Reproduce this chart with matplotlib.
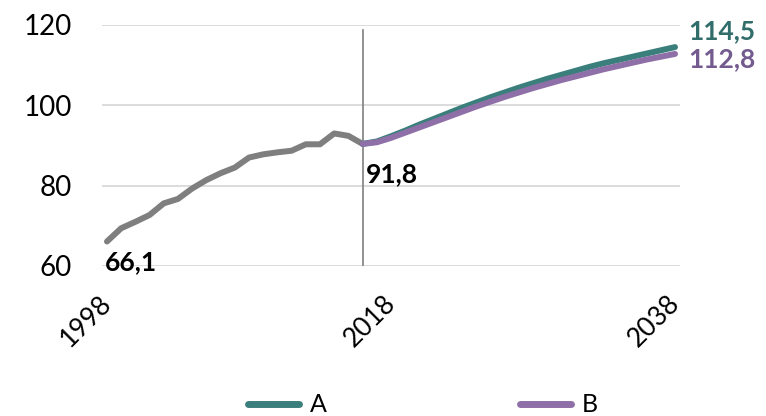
import matplotlib
matplotlib.use("Agg")
import matplotlib.pyplot as plt
from matplotlib.transforms import ScaledTranslation

plt.rcParams['font.family'] = ['Lato', 'DejaVu Sans']

hist_years = list(range(1998, 2017))
hist_vals = [66.1, 69.4, 71.0, 72.7, 75.6, 76.7, 79.3, 81.4, 83.1, 84.5,
             87.0, 87.8, 88.3, 88.7, 90.3, 90.3, 93.0, 92.4, 90.4]

proj_years = list(range(2016, 2039))
proj_a = [90.4, 91.0, 92.3, 93.7, 95.2, 96.6, 98.0, 99.4, 100.7, 102.0, 103.2,
          104.4, 105.5, 106.6, 107.6, 108.6, 109.6, 110.5, 111.3, 112.1, 112.9,
          113.7, 114.5]
proj_b = [90.4, 90.8, 91.9, 93.2, 94.5, 95.8, 97.1, 98.4, 99.7, 100.9, 102.1,
          103.2, 104.3, 105.3, 106.3, 107.2, 108.1, 109.0, 109.8, 110.6, 111.4,
          112.1, 112.8]

series_names = ['A', 'B']
x_ticks = [1998, 2018, 2038]
y_ticks = [60, 80, 100, 120]
label_start = "66,1"
label_mid = "91,8"
label_a = "114,5"
label_b = "112,8"

GRAY = '#7f7f7f'
TEAL = '#3b7f7c'
PURPLE = '#8e6fa7'
TEAL_TXT = '#316d6a'
PURPLE_TXT = '#735a8f'

fig = plt.figure(figsize=(7.66, 4.16), dpi=100)
ax = fig.add_axes([102/766, 1-266/416, (680-102)/766, (266-25)/416])

ax.set_xlim(1997.65, 2038.35)
ax.set_ylim(60, 120)
for s in ax.spines.values():
    s.set_visible(False)
ax.set_yticks(y_ticks)
ax.yaxis.grid(True, color='#d9d9d9', lw=1.3)
ax.set_axisbelow(True)
ax.tick_params(axis='y', length=0, pad=21.5, labelsize=20)
ax.set_xticks(x_ticks)
ax.set_xticklabels([str(t) for t in x_ticks], rotation=45, ha='right',
                   va='top', rotation_mode='anchor')
ax.tick_params(axis='x', length=0, pad=18, labelsize=19)
offset = ScaledTranslation(-8/100, 0, fig.dpi_scale_trans)
for lab in ax.get_xticklabels():
    lab.set_transform(lab.get_transform() + offset)

ax.axvline(2016, ymin=-0.01, ymax=0.98, color=GRAY, lw=1.2, zorder=1)

ax.plot(hist_years, hist_vals, color=GRAY, lw=4.3, solid_capstyle='round',
        solid_joinstyle='round', zorder=3)
la, = ax.plot(proj_years, proj_a, color=TEAL, lw=4.3, solid_capstyle='round',
              label=series_names[0], zorder=3)
lb, = ax.plot(proj_years, proj_b, color=PURPLE, lw=4.3, solid_capstyle='round',
              label=series_names[1], zorder=4)

ax.text(1997.85, 59.0, label_start, fontsize=19, fontweight='bold',
        ha='left', va='baseline', color='black', clip_on=False)
ax.text(2016.2, 81.0, label_mid, fontsize=19, fontweight='bold',
        ha='left', va='baseline', color='black')
ax.text(2038.9, 116.6, label_a, fontsize=19, fontweight='bold',
        ha='left', va='baseline', color=TEAL_TXT, clip_on=False)
ax.text(2038.9, 109.6, label_b, fontsize=19, fontweight='bold',
        ha='left', va='baseline', color=PURPLE_TXT, clip_on=False)

fig.legend(handles=[la, lb], loc='center', bbox_to_anchor=(423/766, 1 - 405/416),
           ncol=2, frameon=False, fontsize=18, handlelength=2.05,
           columnspacing=7.7, handletextpad=0.45, borderpad=0, borderaxespad=0)
for h in fig.legends[0].get_lines():
    h.set_linewidth(5)
    h.set_solid_capstyle('round')

fig.savefig('out.png', dpi=100)
